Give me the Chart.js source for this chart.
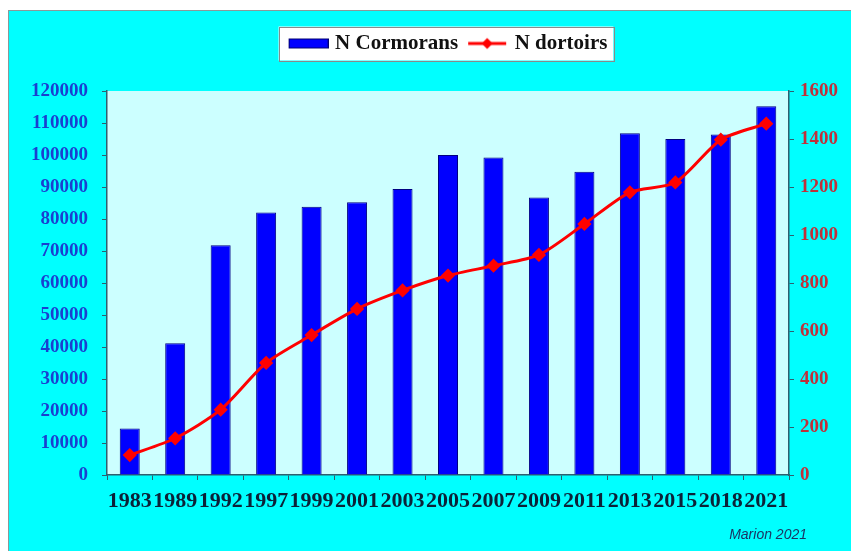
<!DOCTYPE html>
<html><head><meta charset="utf-8">
<script src="https://cdn.jsdelivr.net/npm/chart.js@4.4.0/dist/chart.umd.min.js"></script>
<style>
html,body{margin:0;padding:0;background:#fff;width:851px;height:551px;overflow:hidden}
#frame{position:absolute;left:8px;top:10px;width:843px;height:541px;background:#00FFFF;border-left:1px solid #8a9a9a;border-top:1px solid #8a9a9a;box-sizing:border-box}
canvas{position:absolute;left:0;top:0}
</style></head><body>
<div id="frame"><canvas id="c" width="842" height="540"></canvas></div>
<script>
const years = ['1983','1989','1992','1997','1999','2001','2003','2005','2007','2009','2011','2013','2015','2018','2021'];
const cormorans = [14500, 41200, 71800, 82000, 83800, 85200, 89400, 100000, 99200, 86700, 94800, 106800, 105000, 106400, 115200];
const dortoirs = [83, 153, 272, 467, 583, 692, 769, 831, 872, 917, 1046, 1178, 1219, 1397, 1464];
const leftMax = 120000, leftStep = 10000;
const rightMax = 1600, rightStep = 200;
const seriesNames = ['N Cormorans', 'N dortoirs'];
const creditText = 'Marion 2021';

function swatchBar(){const c=document.createElement('canvas');c.width=44;c.height=14;const g=c.getContext('2d');g.fillStyle='#0000FF';g.fillRect(4,2,40,10);g.strokeStyle='#000070';g.lineWidth=1;g.strokeRect(4.5,2.5,39,9);return c;}
function swatchLine(){const c=document.createElement('canvas');c.width=44;c.height=14;const g=c.getContext('2d');g.strokeStyle='#FF0000';g.lineWidth=3;g.beginPath();g.moveTo(4,7);g.lineTo(42,7);g.stroke();g.fillStyle='#FF0000';g.beginPath();g.moveTo(23,1.5);g.lineTo(28.5,7);g.lineTo(23,12.5);g.lineTo(17.5,7);g.closePath();g.fill();return c;}
const barSw = swatchBar(), lineSw = swatchLine();

const axisColor = '#2f5f6f';
const decor = {
  id:'decor',
  beforeDraw(chart){
    const {ctx, chartArea:a} = chart;
    ctx.save();
    ctx.fillStyle = '#CCFFFF';
    ctx.fillRect(a.left, a.top, a.right-a.left, a.bottom-a.top);
    const hb = chart.legend && chart.legend.legendHitBoxes;
    if (hb && hb.length){
      const l = hb[0].left - 10, r = hb[hb.length-1].left + hb[hb.length-1].width + 6;
      const t = hb[0].top - 6.5, b = hb[0].top + hb[0].height + 6.5;
      ctx.fillStyle = '#FFFFFF';
      ctx.fillRect(l, t, r-l, b-t);
      ctx.strokeStyle = '#8a8a8a'; ctx.lineWidth = 1;
      ctx.strokeRect(Math.round(l)+0.5, Math.round(t)+0.5, Math.round(r-l), Math.round(b-t));
    }
    ctx.restore();
  },
  afterDraw(chart){
    const ctx = chart.ctx;
    ctx.save();
    ctx.font = 'italic 14px "Liberation Sans", Arial, sans-serif';
    ctx.fillStyle = '#1b3564';
    ctx.textAlign = 'right'; ctx.textBaseline = 'middle';
    ctx.fillText(creditText, 798, 524);
    ctx.restore();
  }
};

new Chart(document.getElementById('c'), {
  data: {
    labels: years,
    datasets: [
      {type:'bar', label:seriesNames[0], data:cormorans, backgroundColor:'#0000FF', borderColor:'#000080', borderWidth:1, yAxisID:'y', barPercentage:0.44, categoryPercentage:1, order:2},
      {type:'line', label:seriesNames[1], data:dortoirs, borderColor:'#FF0000', backgroundColor:'#FF0000', borderWidth:3, pointStyle:'rectRot', pointRadius:5, pointBackgroundColor:'#FF0000', pointBorderColor:'#FF0000', tension:0.25, yAxisID:'y1', order:1}
    ]
  },
  options: {
    responsive:false, animation:false,
    layout:{padding:{top:12,left:0,right:0,bottom:0}},
    plugins:{
      tooltip:{enabled:false},
      title:{display:true, text:'', weight:500, padding:{top:0,bottom:15}, font:{size:10}},
      legend:{display:true, position:'top', fullSize:false,
        labels:{usePointStyle:true, pointStyleWidth:36, padding:10, color:'#111111',
          font:{family:'"Liberation Serif", "Times New Roman", serif', weight:'bold', size:21},
          generateLabels(chart){
            const items = Chart.defaults.plugins.legend.labels.generateLabels(chart);
            items.sort((a,b)=>a.datasetIndex-b.datasetIndex);
            items.forEach(it=>{ it.pointStyle = it.datasetIndex===0 ? barSw : lineSw; });
            return items;
          }}}
    },
    scales:{
      x:{offset:true,
        grid:{display:true, drawOnChartArea:false, drawTicks:true, tickLength:5, color:axisColor, offset:true},
        border:{display:true, color:axisColor, width:1.5},
        ticks:{autoSkip:false, maxRotation:0, minRotation:0, padding:8, color:'#0c2238',
          font:{family:'"Liberation Serif", "Times New Roman", serif', weight:'bold', size:22}},
        afterFit(s){ s.height = 76; }},
      y:{position:'left', min:0, max:leftMax,
        ticks:{stepSize:leftStep, callback:v=>String(v), color:'#1a3fd0', padding:14,
          font:{family:'"Liberation Serif", "Times New Roman", serif', weight:'bold', size:19}},
        grid:{drawOnChartArea:false, tickLength:5, color:axisColor},
        border:{display:true, color:axisColor, width:1.5},
        afterFit(s){ s.width = 98; }},
      y1:{position:'right', min:0, max:rightMax,
        ticks:{stepSize:rightStep, callback:v=>String(v), color:'#c0303a', padding:6,
          font:{family:'"Liberation Serif", "Times New Roman", serif', weight:'bold', size:19}},
        grid:{drawOnChartArea:false, tickLength:5, color:axisColor},
        border:{display:true, color:axisColor, width:1.5},
        afterFit(s){ s.width = 62; }}
    }
  },
  plugins:[decor]
});
</script>
</body></html>
